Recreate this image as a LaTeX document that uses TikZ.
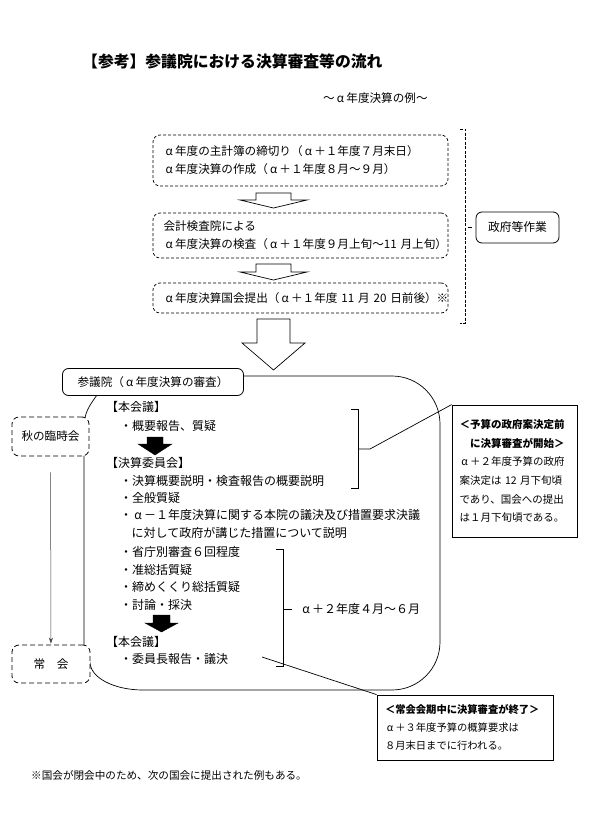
\documentclass[tikz,border=0pt]{standalone}
\usepackage{fontspec}
\setmainfont{Noto Sans CJK JP}
\usetikzlibrary{calc,arrows.meta}
\newcommand\al{\makebox[1em][c]{α}}
\newcommand\fsz[2]{\fontsize{#1}{#2}\selectfont}
\newcommand\myarrow[7]{\draw[#7] (#1-#5,#2) -- (#1+#5,#2) -- (#1+#5,#3) -- (#1+#6,#3) -- (#1,#4) -- (#1-#6,#3) -- (#1-#5,#3) -- cycle;}
\begin{document}
\begin{tikzpicture}[x=1pt,y=-1pt,
  every node/.style={inner sep=0pt},
  body/.style={font=\fsz{11.6}{18}},
  mbody/.style={font=\fsz{12}{18}},
  txt/.style={mbody, anchor=west, align=left},
  dbox/.style={draw, dash pattern=on 3pt off 2pt, rounded corners=7pt, line width=0.7pt, body},
  ldbox/.style={draw, dash pattern=on 5pt off 3pt, rounded corners=7pt, line width=0.8pt, fill=white, body},
  sbox/.style={draw, rounded corners=6pt, line width=0.8pt, fill=white, body},
  nbox/.style={draw, line width=0.8pt, fill=white, align=left, font=\fsz{10.5}{18.6}},
  harr/.style={draw, line width=0.7pt, fill=white},
  barr/.style={fill=black},
  thinl/.style={line width=0.7pt}]
\useasboundingbox (0,0) rectangle (590,834);

% title
\node[anchor=west, font=\bfseries\fsz{15.8}{18}] (title) at (82,61) {【参考】参議院における決算審査等の流れ};
\node[anchor=west, body] (sub) at (323,98) {～\al{}年度決算の例～};

% government stage
\node[dbox, minimum width=295pt, minimum height=51pt, text width=274pt, inner xsep=10.5pt, align=left] (b1) at (300.5,160.5)
  {\al{}年度の主計簿の締切り（\al{}＋１年度７月末日）\\\al{}年度決算の作成（\al{}＋１年度８月～９月）};
\myarrow{273.5}{193}{200}{208}{17.5}{33.5}{harr}
\node[dbox, minimum width=295pt, minimum height=45pt, text width=274pt, inner xsep=10.5pt, align=left] (b2) at (300.5,235.5)
  {会計検査院による\\\al{}年度決算の検査（\al{}＋１年度９月上旬～11~月上旬）};
\myarrow{273.5}{264}{272}{280}{17.5}{33.5}{harr}
\node[dbox, minimum width=295pt, minimum height=30pt, text width=274pt, inner xsep=10.5pt, align=left] (b3) at (300.5,298)
  {\al{}年度決算国会提出（\al{}＋１年度~11~月~20~日前後）※};

\draw[thinl, dash pattern=on 3pt off 1.5pt] (460,129) -- (465,129) -- (465,323) -- (460,323);
\node[sbox, minimum width=83pt, minimum height=31pt, font=\fsz{11.8}{18}] (seifu) at (517.5,227.5) {政府等作業};
\draw[thinl] ($(seifu.west)+(-8,0)$) -- ($(seifu.west)+(-4,0)$);

\myarrow{273.5}{319}{343}{370}{16.5}{31.5}{harr}

% main outline
\draw[thinl] (243.5,376) -- (392,376) arc[start angle=270, end angle=360, radius=48] -- (440,642)
  arc[start angle=0, end angle=90, radius=48] -- (143,690) arc[start angle=90, end angle=180, x radius=53, y radius=28];
\draw[thinl] (97,395) .. controls (90,405) and (84,412) .. (84,428) -- (84,645);

\node[sbox, minimum width=181pt, minimum height=27pt] (sangi) at (153,382) {参議院（\al{}年度決算の審査）};
\node[ldbox, minimum width=77pt, minimum height=39pt] (aki) at (50.5,436.5) {秋の臨時会};
\node[ldbox, minimum width=78pt, minimum height=38pt] (jokai) at (51,664) {常　会};
\draw[-{Stealth[length=6pt,width=4pt]}, line width=0.5pt, black!75, shorten <=16pt, shorten >=1pt] (aki) -- (jokai);

% contents
\node[txt] (h1) at (106,407) {【本会議】};
\node[txt] (i1) at (120,426) {・概要報告、質疑};
\myarrow{155}{437}{444}{455}{8}{17}{barr}
\node[txt] (h2) at (106,463) {【決算委員会】};
\node[txt] (i2) at (120,481) {・決算概要説明・検査報告の概要説明};
\node[txt] (i3) at (120,498) {・全般質疑};
\node[txt] (i4) at (120,515) {・\al{}－１年度決算に関する本院の議決及び措置要求決議};
\node[txt] (i4b) at (131.5,533) {に対して政府が講じた措置について説明};
\node[txt] (i5) at (120,552) {・省庁別審査６回程度};
\node[txt] (i6) at (120,570) {・准総括質疑};
\node[txt] (i7) at (120,587) {・締めくくり総括質疑};
\node[txt] (i8) at (120,605) {・討論・採決};
\myarrow{161.5}{615}{623}{632}{8.5}{16.5}{barr}
\node[txt] (h3) at (106,642) {【本会議】};
\node[txt] (i9) at (120,659) {・委員長報告・議決};

% bracket 1 and note 1
\node[nbox, minimum width=125pt, minimum height=132pt, text width=110pt, inner xsep=7.5pt] (note1) at (514.5,471)
  {{\bfseries ＜予算の政府案決定前}\\{\bfseries 　に決算審査が開始＞}\\\al{}＋２年度予算の政府\\案決定は~12~月下旬頃\\であり、国会への提出\\は１月下旬頃である。};
\draw[thinl] (351,409) -- (358,409) -- (358,488) -- (351,488);
\coordinate (k1) at (370,449);
\draw[thinl] (358,449) -- (k1) -- (note1.north west);

% bracket 2 and note 2
\draw[thinl] (276,549) -- (283,549) -- (283,666) -- (276,666);
\draw[thinl] (283,609) -- (292,609);
\node[txt] (period) at (300,609) {\al{}＋２年度４月～６月};
\node[nbox, minimum width=176pt, minimum height=65pt, text width=160pt, inner xsep=8pt, font=\fsz{10.3}{18}] (note2) at (465,727.5)
  {{\bfseries ＜常会会期中に決算審査が終了＞}\\\al{}＋３年度予算の概算要求は\\８月末日までに行われる。};
\coordinate (k2) at (262,657);
\draw[thinl] (k2) -- (note2.north west);

% footnote
\node[anchor=west, font=\fsz{10.6}{14}] (foot) at (31,775) {※国会が閉会中のため、次の国会に提出された例もある。};
\end{tikzpicture}
\end{document}
